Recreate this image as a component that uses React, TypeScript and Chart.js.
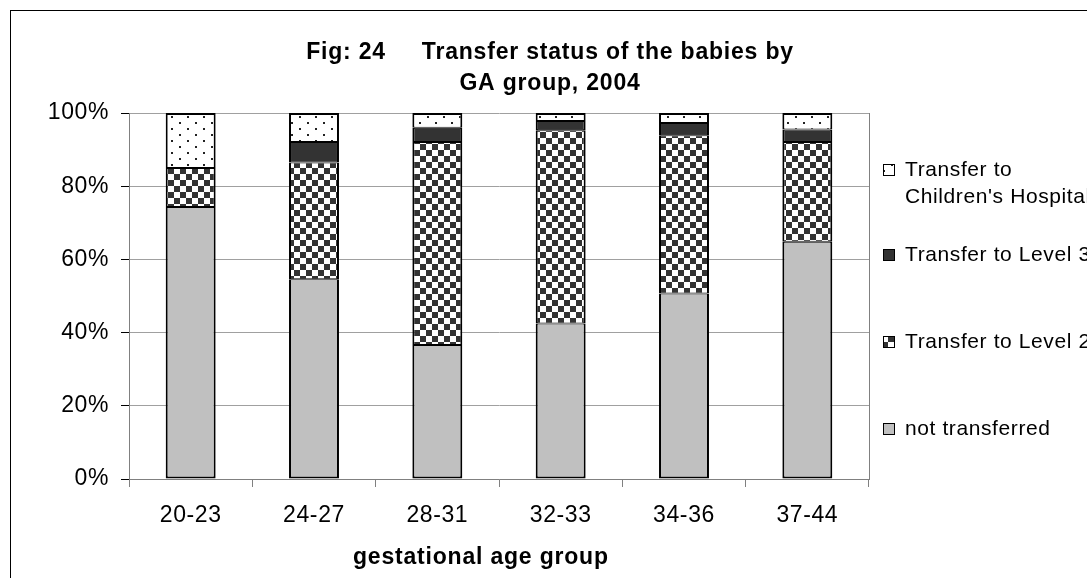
import React, { useEffect, useRef } from 'react';
import { Chart, registerables } from 'chart.js';
Chart.register(...registerables);

const categories = ['20-23', '24-27', '28-31', '32-33', '34-36', '37-44'];
const notTransferred = [74.3, 54.6, 36.6, 42.5, 50.7, 64.8];
const toLevel2 = [10.7, 31.9, 55.5, 52.8, 43.2, 27.3];
const toLevel3 = [0, 5.6, 3.9, 2.5, 3.4, 3.4];
const toChildrens = [15.0, 7.9, 4.0, 2.2, 2.7, 4.5];
const yTicks = [0, 20, 40, 60, 80, 100];
const seriesNames = ['not transferred', 'Transfer to Level 2', 'Transfer to Level 3', "Transfer to Children's Hospital"];
const legendLines = [['not transferred'], ['Transfer to Level 2'], ['Transfer to Level 3'], ['Transfer to', "Children's Hospital"]];
const titleLines = ['Fig: 24     Transfer status of the babies by', 'GA group, 2004'];
const xAxisTitle = 'gestational age group';

const FONT = "'Liberation Sans', Arial, sans-serif";

function makePatterns(ctx: CanvasRenderingContext2D) {
  const chk = document.createElement('canvas');
  chk.width = 12; chk.height = 12;
  const c1 = chk.getContext('2d')!;
  c1.fillStyle = '#ffffff'; c1.fillRect(0, 0, 12, 12);
  c1.fillStyle = '#333333'; c1.fillRect(0, 0, 6, 6); c1.fillRect(6, 6, 6, 6);
  const dots = document.createElement('canvas');
  dots.width = 16; dots.height = 12;
  const c2 = dots.getContext('2d')!;
  c2.fillStyle = '#ffffff'; c2.fillRect(0, 0, 16, 12);
  c2.fillStyle = '#222222'; c2.fillRect(3, 2, 2, 2); c2.fillRect(11, 8, 2, 2);
  return {
    checker: ctx.createPattern(chk, 'repeat')!,
    dots: ctx.createPattern(dots, 'repeat')!,
  };
}

export default function App() {
  const ref = useRef<HTMLCanvasElement | null>(null);
  useEffect(() => {
    const canvas = ref.current!;
    const ctx = canvas.getContext('2d')!;
    const pats = makePatterns(ctx);
    const fills: any[] = ['#c0c0c0', pats.checker, '#333333', pats.dots];
    const values = [notTransferred, toLevel2, toLevel3, toChildrens];

    const decor = {
      id: 'decor',
      beforeDraw(chart: any) {
        chart.ctx.letterSpacing = '0.6px';
      },
      afterDraw(chart: any) {
        const c = chart.ctx as CanvasRenderingContext2D;
        const a = chart.chartArea;
        c.save();
        // plot area right border
        c.strokeStyle = '#808080';
        c.lineWidth = 1;
        c.beginPath();
        c.moveTo(Math.round(a.right) + 0.5, a.top);
        c.lineTo(Math.round(a.right) + 0.5, a.bottom);
        c.stroke();
        // outer chart border
        c.strokeStyle = '#000';
        c.strokeRect(10.5, 10.5, 1200, 800);
        // title
        c.fillStyle = '#000';
        c.font = `bold 23px ${FONT}`;
        (c as any).letterSpacing = '0.8px';
        c.textAlign = 'center';
        c.textBaseline = 'alphabetic';
        c.fillText(titleLines[0], 550, 59);
        c.fillText(titleLines[1], 550, 90);
        // x axis title
        c.textAlign = 'left';
        c.textBaseline = 'middle';
        c.fillText(xAxisTitle, 353, 558);
        // legend
        c.font = `21px ${FONT}`;
        (c as any).letterSpacing = '0.6px';
        const ys = [429, 342, 255, 170];
        for (let i = 3; i >= 0; i--) {
          const y = ys[i];
          c.fillStyle = fills[i];
          c.fillRect(883, y - 6, 12, 12);
          c.strokeStyle = '#000';
          c.strokeRect(883.5, y - 5.5, 11, 11);
          c.fillStyle = '#000';
          legendLines[i].forEach((t, k) => c.fillText(t, 905, y + k * 27));
        }
        c.restore();
      },
    };

    const chart = new Chart(canvas, {
      type: 'bar',
      data: {
        labels: categories,
        datasets: values.map((v, i) => ({
          label: seriesNames[i],
          data: v,
          backgroundColor: fills[i],
          borderColor: '#000',
          borderWidth: { left: 2, right: 2, top: i === 3 ? 2 : 1, bottom: i === 0 ? 2 : 1 },
          borderSkipped: false,
          categoryPercentage: 1,
          barPercentage: 0.405,
        })),
      },
      options: {
        animation: false,
        responsive: false,
        maintainAspectRatio: false,
        layout: { padding: { left: 0, right: 218, top: 113, bottom: 0 } },
        plugins: { legend: { display: false }, title: { display: false }, tooltip: { enabled: false } },
        scales: {
          x: {
            stacked: true,
            grid: { offset: true, drawOnChartArea: false, drawTicks: true, tickLength: 8, color: '#808080', tickColor: '#808080' },
            border: { color: '#808080' },
            ticks: { color: '#000', font: { family: FONT, size: 23 }, padding: 15, maxRotation: 0 },
            title: { display: false },
            afterFit: (s: any) => { s.height = 99; },
          },
          y: {
            stacked: true,
            min: 0,
            max: 100,
            afterBuildTicks: (s: any) => { s.ticks = yTicks.map((v) => ({ value: v })); },
            ticks: { color: '#000', font: { family: FONT, size: 23 }, padding: 12, callback: (v: any) => v + '%' },
            grid: { color: '#a0a0a0', tickLength: 8, tickColor: '#000' },
            border: { color: '#808080' },
            afterFit: (s: any) => { s.width = 129; },
          },
        },
      } as any,
      plugins: [decor],
    });
    return () => chart.destroy();
  }, []);
  return (
    <div style={{ position: 'fixed', left: 0, top: 0, width: 1087, height: 578, background: '#fff' }}>
      <canvas ref={ref} width={1087} height={578} style={{ width: 1087, height: 578 }} />
    </div>
  );
}
